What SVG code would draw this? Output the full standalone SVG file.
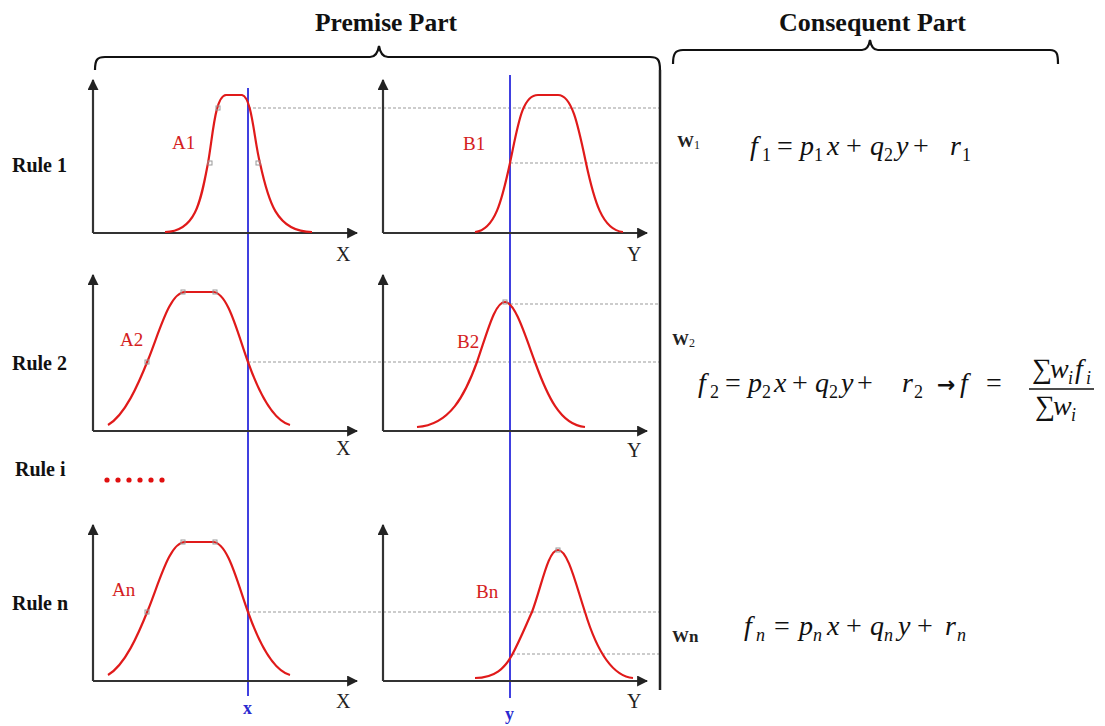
<svg xmlns="http://www.w3.org/2000/svg" width="1105" height="726" viewBox="0 0 1105 726">
<defs>
<marker id="ah" viewBox="0 0 10 10" refX="9" refY="5" markerWidth="5" markerHeight="5" orient="auto-start-reverse" markerUnits="strokeWidth">
<path d="M0,0 L10,5 L0,10 z" fill="#222"/>
</marker>
<style>
.ttl{font-family:"Liberation Serif",serif;font-weight:bold;font-size:25px;fill:#111}
.rule{font-family:"Liberation Serif",serif;font-weight:bold;font-size:20px;fill:#111}
.ax{stroke:#333;stroke-width:2.2;fill:none;marker-end:url(#ah)}
.mf{stroke:#e01a1a;stroke-width:2.2;fill:none}
.lab{font-family:"Liberation Serif",serif;font-size:19px;fill:#d42020}
.axl{font-family:"Liberation Serif",serif;font-size:20px;fill:#222}
.dash{stroke:#999;stroke-width:1.2;stroke-dasharray:3 2;fill:none}
.blue{stroke:#4040e0;stroke-width:2;fill:none}
.bl{font-family:"Liberation Serif",serif;font-weight:bold;font-size:18px;fill:#2a2ad0}
.pt{fill:none;stroke:#999;stroke-width:1}
.m{font-family:"Liberation Serif","DejaVu Serif",serif;font-size:28px;fill:#111}
.i{font-style:italic}
.s{font-size:18px}
.w{font-family:"Liberation Serif",serif;font-weight:bold;font-size:17px;fill:#222}
.ws{font-size:12px;font-weight:normal}
.brace{stroke:#111;stroke-width:2.2;fill:none}
</style>
</defs>
<rect width="1105" height="726" fill="#fff"/>

<g id="titles">
<text class="ttl" x="315" y="31" textLength="142" lengthAdjust="spacingAndGlyphs">Premise Part</text>
<text class="ttl" x="779" y="31" textLength="187" lengthAdjust="spacingAndGlyphs">Consequent Part</text>
<path class="brace" d="M95,70 C95,60 97,57 105,57 L370,57 C376,57 378,52 379,46 C380,52 382,57 388,57 L650,57 C658,57 660,60 660,70"/>
<path class="brace" d="M673,64 C673,54 675,50 683,50 L862,50 C867,50 869,46 870,40 C871,46 873,50 878,50 L1050,50 C1057,50 1058,54 1058,64"/>
</g>

<g id="rule-labels">
<text class="rule" x="12" y="172">Rule 1</text>
<text class="rule" x="12" y="370">Rule 2</text>
<text class="rule" x="15" y="476">Rule i</text>
<text class="rule" x="12" y="610">Rule n</text>
<g fill="#e01010">
<circle cx="107" cy="480" r="2.6"/><circle cx="118" cy="480" r="2.6"/><circle cx="129" cy="480" r="2.6"/><circle cx="140" cy="480" r="2.6"/><circle cx="151" cy="480" r="2.6"/><circle cx="162" cy="480" r="2.6"/>
</g>
</g>

<g id="connectors">
<line class="dash" x1="248" y1="108" x2="660" y2="108"/>
<line class="dash" x1="510" y1="163" x2="660" y2="163"/>
<line class="dash" x1="248" y1="362" x2="660" y2="362"/>
<line class="dash" x1="510" y1="304" x2="660" y2="304"/>
<line class="dash" x1="248" y1="612" x2="660" y2="612"/>
<line class="dash" x1="512" y1="654" x2="660" y2="654"/>
<line class="blue" x1="248" y1="88" x2="248" y2="696"/>
<line class="blue" x1="510" y1="75" x2="510" y2="698"/>
<line x1="660" y1="70" x2="660" y2="690" stroke="#222" stroke-width="2.5"/>
</g>

<g id="plot-A1">
<path class="ax" d="M93,233 L93,80"/>
<path class="ax" d="M93,233 L357,233"/>
<path class="mf" d="M165,232 C196,232 201,200 208,163 C213,135 215,96 226,95 L242,95 C252,97 254,140 260,163 C268,200 276,232 312,232"/>
<rect class="pt" x="216" y="106" width="4" height="4"/><rect class="pt" x="208" y="161" width="4" height="4"/><rect class="pt" x="256" y="161" width="4" height="4"/>
<text class="lab" x="172" y="149">A1</text>
<text class="axl" x="336" y="261">X</text>
</g>

<g id="plot-B1">
<path class="ax" d="M383,233 L383,80"/>
<path class="ax" d="M383,233 L647,233"/>
<path class="mf" d="M475,232 C495,230 502,200 510,163 C518,125 522,95 538,95 L558,95 C572,95 578,125 586,163 C594,200 602,230 623,232"/>
<text class="lab" x="463" y="150">B1</text>
<text class="axl" x="627" y="261">Y</text>
</g>

<g id="plot-A2">
<path class="ax" d="M93,431 L93,275"/>
<path class="ax" d="M93,431 L357,431"/>
<path class="mf" d="M108,425 C125,415 138,385 148,360 C160,330 170,292 185,292 L213,292 C228,292 238,335 248,362 C258,390 272,420 290,425"/>
<rect class="pt" x="181" y="290" width="4" height="4"/><rect class="pt" x="213" y="290" width="4" height="4"/><rect class="pt" x="145" y="360" width="4" height="4"/>
<text class="lab" x="120" y="346">A2</text>
<text class="axl" x="336" y="455">X</text>
</g>

<g id="plot-B2">
<path class="ax" d="M383,431 L383,275"/>
<path class="ax" d="M383,431 L647,431"/>
<path class="mf" d="M417,427 C450,425 465,395 477,362 C488,330 495,302 505,302 C515,302 525,335 535,362 C547,395 560,425 585,427"/>
<rect class="pt" x="503" y="300" width="4" height="4"/>
<text class="lab" x="457" y="348">B2</text>
<text class="axl" x="627" y="457">Y</text>
</g>

<g id="plot-An">
<path class="ax" d="M93,681 L93,525"/>
<path class="ax" d="M93,681 L357,681"/>
<path class="mf" d="M108,675 C125,665 138,635 148,610 C160,580 170,542 185,542 L213,542 C228,542 238,585 248,612 C258,640 272,670 290,675"/>
<rect class="pt" x="181" y="540" width="4" height="4"/><rect class="pt" x="213" y="540" width="4" height="4"/><rect class="pt" x="145" y="610" width="4" height="4"/>
<text class="lab" x="112" y="596">An</text>
<text class="axl" x="336" y="708">X</text>
<text class="bl" x="243" y="714">x</text>
</g>

<g id="plot-Bn">
<path class="ax" d="M383,681 L383,525"/>
<path class="ax" d="M383,681 L647,681"/>
<path class="mf" d="M475,678 C495,678 505,668 512,655 C520,640 526,625 532,612 C542,585 548,550 558,550 C568,550 576,585 585,612 C595,645 610,676 633,678"/>
<rect class="pt" x="556" y="548" width="4" height="4"/>
<text class="lab" x="476" y="598">Bn</text>
<text class="axl" x="627" y="708">Y</text>
<text class="bl" x="505" y="720">y</text>
</g>

<g id="consequent-1">
<text class="w" x="677" y="147">W<tspan class="ws" dy="2">1</tspan></text>
<text class="m" y="155"><tspan class="i" x="750">f</tspan><tspan class="s" x="762" y="161">1</tspan><tspan x="777" y="155">=</tspan><tspan class="i" x="800">p</tspan><tspan class="s" x="814" y="161">1</tspan><tspan class="i" x="827" y="155">x</tspan><tspan x="846">+</tspan><tspan class="i" x="870">q</tspan><tspan class="s" x="884" y="161">2</tspan><tspan class="i" x="896" y="155">y</tspan><tspan x="913">+</tspan><tspan class="i" x="950">r</tspan><tspan class="s" x="962" y="161">1</tspan></text>
</g>

<g id="consequent-2">
<text class="w" x="672" y="345">W<tspan class="ws" dy="2">2</tspan></text>
<text class="m" y="392"><tspan class="i" x="698">f</tspan><tspan class="s" x="710" y="398">2</tspan><tspan x="725" y="392">=</tspan><tspan class="i" x="748">p</tspan><tspan class="s" x="762" y="398">2</tspan><tspan class="i" x="774" y="392">x</tspan><tspan x="792">+</tspan><tspan class="i" x="815">q</tspan><tspan class="s" x="829" y="398">2</tspan><tspan class="i" x="841" y="392">y</tspan><tspan x="857">+</tspan><tspan class="i" x="902">r</tspan><tspan class="s" x="914" y="398">2</tspan></text>
<text class="m" y="392"><tspan x="937" font-family="DejaVu Sans" font-weight="bold" font-size="22">→</tspan><tspan class="i" x="960">f</tspan><tspan x="986">=</tspan></text>
<text class="m" y="378"><tspan x="1032">∑</tspan><tspan class="i" x="1050">w</tspan><tspan class="s i" x="1068" y="384">i</tspan><tspan class="i" x="1075" y="378">f</tspan><tspan class="s i" x="1086" y="384">i</tspan></text>
<line x1="1029" y1="389" x2="1094" y2="389" stroke="#111" stroke-width="1.5"/>
<text class="m" y="415"><tspan x="1035">∑</tspan><tspan class="i" x="1053">w</tspan><tspan class="s i" x="1071" y="421">i</tspan></text>
</g>

<g id="consequent-n">
<text class="w" x="672" y="642">Wn</text>
<text class="m" y="635"><tspan class="i" x="744">f</tspan><tspan class="s i" x="756" y="641">n</tspan><tspan x="774" y="635">=</tspan><tspan class="i" x="799">p</tspan><tspan class="s i" x="813" y="641">n</tspan><tspan class="i" x="827" y="635">x</tspan><tspan x="846">+</tspan><tspan class="i" x="870">q</tspan><tspan class="s i" x="884" y="641">n</tspan><tspan class="i" x="898" y="635">y</tspan><tspan x="917">+</tspan><tspan class="i" x="945">r</tspan><tspan class="s i" x="957" y="641">n</tspan></text>
</g>
</svg>
